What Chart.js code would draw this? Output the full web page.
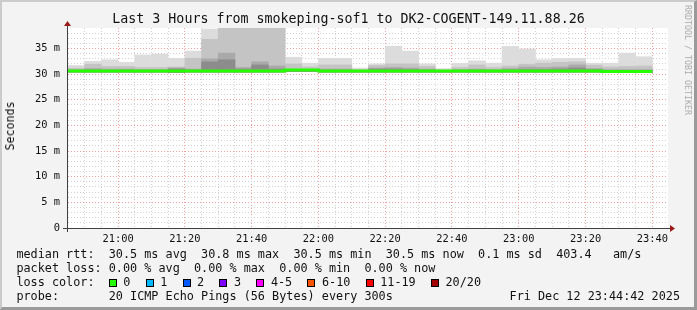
<!DOCTYPE html>
<html>
<head>
<meta charset="utf-8">
<title>Last 3 Hours from smokeping-sof1 to DK2-COGENT-149.11.88.26</title>
<script src="https://cdn.jsdelivr.net/npm/chart.js@4.4.1/dist/chart.umd.min.js"></script>
<style>
  body { margin: 0; background: #f3f3f3; font-family: "DejaVu Sans Mono", monospace; color: #111; }
  #frame { position: absolute; left: 0; top: 0; width: 697px; height: 310px; box-sizing: border-box;
    border-top: 2px solid #cbcbcb; border-left: 2px solid #cbcbcb;
    border-right: 3px solid #9a9a9a; border-bottom: 3px solid #9a9a9a; }
  #graph { position: absolute; left: 0; top: 0; }
  .txt { position: absolute; white-space: pre; }
  #title { left: 0; width: 697px; text-align: center; top: 10.7px; font-size: 13.3px; line-height: 16px; }
  #ylabel { left: 10px; top: 126px; font-size: 11.6px; line-height: 14px; transform: translate(-50%, -50%) rotate(-90deg); }
  #credit { left: 688px; top: 60px; font-size: 8.3px; line-height: 10px; color: #ababab; transform: translate(-50%, -50%) rotate(90deg); }
  .row { left: 16.4px; font-size: 11.8px; line-height: 14px; }
  #stamp { right: 17px; top: 289.4px; font-size: 11.8px; line-height: 14px; }
  .box { display: inline-block; width: 8px; height: 8px; box-sizing: border-box; border: 1px solid #000; margin-right: 6.6px; vertical-align: -0.5px; }
  .item { margin-right: 15.2px; }
</style>
</head>
<body>
<div id="frame"></div>
<canvas id="graph" width="697" height="310"></canvas>
<div class="txt" id="title">Last 3 Hours from smokeping-sof1 to DK2-COGENT-149.11.88.26</div>
<div class="txt" id="ylabel">Seconds</div>
<div class="txt" id="credit">RRDTOOL / TOBI OETIKER</div>
<div class="txt row" style="top:247.4px">median rtt:  30.5 ms avg  30.8 ms max  30.5 ms min  30.5 ms now  0.1 ms sd  403.4   am/s</div>
<div class="txt row" style="top:261.4px">packet loss: 0.00 % avg  0.00 % max  0.00 % min  0.00 % now</div>
<div class="txt row" id="lossrow" style="top:275.4px">loss color:  </div>
<div class="txt row" style="top:289.4px">probe:       20 ICMP Echo Pings (56 Bytes) every 300s</div>
<div class="txt" id="stamp">Fri Dec 12 23:44:42 2025</div>
<script>
// 5 minute slots, start time of each
var slotStarts = [
  "20:45", "20:50", "20:55", "21:00", "21:05", "21:10", "21:15", "21:20", "21:25", "21:30",
  "21:35", "21:40", "21:45", "21:50", "21:55", "22:00", "22:05", "22:10", "22:15", "22:20",
  "22:25", "22:30", "22:35", "22:40", "22:45", "22:50", "22:55", "23:00", "23:05", "23:10",
  "23:15", "23:20", "23:25", "23:30", "23:35",
];

// rtt in ms per slot (smoke bands: bottom, then tops of each shade)
var rttMin = [
  30.4, 30.4, 30.4, 30.4, 30.4, 30.4, 30.3, 30.4, 30.4, 30.4,
  30.4, 30.4, 30.4, 30.5, 30.5, 30.4, 30.4, 30.4, 30.4, 30.4,
  30.4, 30.4, 30.4, 30.4, 30.4, 30.4, 30.4, 30.4, 30.4, 30.4,
  30.4, 30.4, 30.3, 30.3, 30.3,
];
var rttMax = [
  31.7, 32.5, 32.8, 32.3, 33.75, 33.95, 33.1, 34.5, 38.8, 41.0,
  41.0, 41.0, 41.0, 33.3, 32.15, 33.1, 33.1, 31.2, 32.0, 35.45,
  34.5, 32.0, 31.1, 32.1, 32.6, 32.15, 35.4, 34.9, 32.8, 33.05,
  33.1, 32.15, 32.15, 34.1, 33.4,
];
var rttHigh = [
  31.2, 31.95, 31.5, 31.5, 31.3, 31.3, 31.4, 33.1, 36.8, 41.0,
  41.0, 41.0, 41.0, 32.0, 31.4, 31.8, 31.8, 30.9, 31.7, 32.0,
  32.0, 31.5, 30.8, 31.3, 31.8, 31.3, 31.6, 31.95, 32.15, 32.3,
  32.4, 31.75, 31.4, 31.5, 31.6,
];
var rttMid = [
  30.9, 31.1, 31.0, 31.0, 30.9, 30.9, 31.2, 31.0, 33.0, 34.1,
  31.3, 32.4, 31.6, 31.0, 30.9, 31.0, 31.0, 30.7, 31.2, 31.3,
  31.2, 31.0, 30.7, 30.9, 31.0, 30.9, 31.1, 31.4, 31.3, 31.4,
  31.8, 31.1, 30.9, 30.9, 30.9,
];
var rttLow = [
  30.7, 30.8, 30.7, 30.8, 30.7, 30.7, 31.0, 30.8, 32.4, 32.8,
  31.0, 31.8, 31.0, 30.9, 30.8, 30.8, 30.8, 30.6, 31.0, 31.0,
  30.9, 30.8, 30.6, 30.7, 30.8, 30.7, 30.8, 30.9, 30.9, 31.0,
  31.2, 30.9, 30.7, 30.7, 30.7,
];
var rttMedian = [
  30.6, 30.6, 30.6, 30.6, 30.6, 30.6, 30.6, 30.6, 30.6, 30.6,
  30.6, 30.6, 30.6, 30.8, 30.8, 30.6, 30.6, 30.6, 30.6, 30.6,
  30.6, 30.6, 30.6, 30.6, 30.6, 30.6, 30.6, 30.6, 30.6, 30.6,
  30.6, 30.6, 30.5, 30.5, 30.5,
];

var windowStart = "20:44:42";
var windowEnd = "23:44:42";
var timeTickLabels = ["21:00", "21:20", "21:40", "22:00", "22:20", "22:40", "23:00", "23:20", "23:40"];
var yTickLabels = ["0", "5 m", "10 m", "15 m", "20 m", "25 m", "30 m", "35 m"];
var lossLabels = ["0", "1", "2", "3", "4-5", "6-10", "11-19", "20/20"];

var lossColors = ["#26ff00", "#00b8ff", "#0059ff", "#7e00ff", "#ff00ff", "#ff5500", "#ff0000", "#a10000"];
var stepMin = 5;
var monoFont = "'DejaVu Sans Mono', monospace";

function toMin(t) {
  var p = t.split(":").map(Number);
  return p[0] * 60 + p[1] + (p[2] || 0) / 60;
}

function fmtMin(v) {
  var h = Math.floor(v / 60);
  var m = Math.round(v - h * 60);
  return h + ":" + (m < 10 ? "0" + m : m);
}

function smokeBand(tops) {
  return slotStarts.map(function (s, i) {
    return { x: toMin(s) + stepMin / 2, y: [rttMin[i], tops[i]] };
  });
}

function medianLine() {
  var pts = slotStarts.map(function (s, i) {
    return { x: toMin(s), y: rttMedian[i] };
  });
  var last = slotStarts.length - 1;
  pts.push({ x: toMin(slotStarts[last]) + stepMin, y: rttMedian[last] });
  return pts;
}

// legend boxes for loss colours
var lossRow = document.getElementById("lossrow");
lossLabels.forEach(function (label, i) {
  var box = document.createElement("span");
  box.className = "box";
  box.style.background = lossColors[i];
  var txt = document.createElement("span");
  txt.className = "item";
  txt.textContent = label;
  lossRow.appendChild(box);
  lossRow.appendChild(txt);
});

var plotFrame = {
  id: "plotFrame",
  beforeDraw: function (chart) {
    var a = chart.chartArea;
    var ctx = chart.ctx;
    ctx.save();
    ctx.fillStyle = "#ffffff";
    ctx.fillRect(a.left, a.top, a.right - a.left, a.bottom - a.top);
    ctx.restore();
  },
  afterDraw: function (chart) {
    var a = chart.chartArea;
    var ctx = chart.ctx;
    var xl = Math.round(a.left) + 0.5;
    var yb = Math.round(a.bottom) + 0.5;
    ctx.save();
    ctx.strokeStyle = "#404040";
    ctx.lineWidth = 1;
    ctx.beginPath();
    ctx.moveTo(xl, a.top - 3);
    ctx.lineTo(xl, a.bottom + 4);
    ctx.moveTo(a.left - 4, yb);
    ctx.lineTo(a.right + 3, yb);
    ctx.stroke();
    ctx.fillStyle = "#9c1a1a";
    ctx.beginPath();
    ctx.moveTo(xl, a.top - 7);
    ctx.lineTo(xl - 3.5, a.top - 2);
    ctx.lineTo(xl + 3.5, a.top - 2);
    ctx.closePath();
    ctx.fill();
    ctx.beginPath();
    ctx.moveTo(a.right + 7, yb);
    ctx.lineTo(a.right + 2, yb - 3.5);
    ctx.lineTo(a.right + 2, yb + 3.5);
    ctx.closePath();
    ctx.fill();
    ctx.restore();
  },
};

window.onload = function () {
  var ctx = document.getElementById("graph").getContext("2d");
  var smokeShades = ["#8c8c8c", "#a9a9a9", "#c4c4c4", "#dcdcdc"];
  var bands = [rttLow, rttMid, rttHigh, rttMax];
  var datasets = [
    {
      type: "line",
      label: "median rtt",
      data: medianLine(),
      borderColor: lossColors[0],
      borderWidth: 3,
      pointRadius: 0,
      stepped: true,
      fill: false,
      order: 0,
    },
  ];
  bands.forEach(function (band, i) {
    datasets.push({
      type: "bar",
      label: "smoke " + i,
      data: smokeBand(band),
      backgroundColor: smokeShades[i],
      borderWidth: 0,
      grouped: false,
      barPercentage: 1,
      categoryPercentage: 1,
      order: i + 1,
    });
  });

  var gridMinutes = [];
  for (var m = Math.ceil(toMin(windowStart) / stepMin) * stepMin + stepMin; m < toMin(windowEnd); m += stepMin) {
    gridMinutes.push(m);
  }

  new Chart(ctx, {
    type: "bar",
    data: { datasets: datasets },
    plugins: [plotFrame],
    options: {
      responsive: false,
      devicePixelRatio: 1,
      animation: false,
      layout: { padding: { left: 0, right: 29, top: 28, bottom: 0 } },
      plugins: {
        legend: { display: false },
        tooltip: { enabled: false },
      },
      scales: {
        x: {
          type: "linear",
          offset: false,
          min: toMin(windowStart),
          max: toMin(windowEnd),
          z: 1,
          afterFit: function (scale) {
            scale.height = 82;
          },
          afterBuildTicks: function (scale) {
            scale.ticks = gridMinutes.map(function (v) {
              return { value: v };
            });
          },
          border: { color: "#404040", width: 1, dash: [1, 2] },
          grid: {
            offset: false,
            drawTicks: false,
            lineWidth: 1,
            color: function (c) {
              if (!c.tick) return "rgba(0,0,0,0)";
              return timeTickLabels.indexOf(fmtMin(c.tick.value)) >= 0 ? "#f2a0a0" : "#d2d2d2";
            },
          },
          ticks: {
            autoSkip: false,
            maxRotation: 0,
            padding: 5,
            color: "#111",
            font: { family: monoFont, size: 10.4 },
            callback: function (v) {
              var s = fmtMin(v);
              return timeTickLabels.indexOf(s) >= 0 ? s : "";
            },
          },
        },
        y: {
          min: 0,
          max: 39,
          z: 1,
          afterFit: function (scale) {
            scale.width = 67;
          },
          border: { color: "#404040", width: 1, dash: [1, 2] },
          grid: {
            drawTicks: false,
            lineWidth: 1,
            color: function (c) {
              if (!c.tick || c.tick.value <= 0 || c.tick.value >= 39) return "rgba(0,0,0,0)";
              return c.tick.value % 5 === 0 ? "#f2a0a0" : "#d2d2d2";
            },
          },
          ticks: {
            stepSize: 1,
            autoSkip: false,
            padding: 7,
            color: "#111",
            font: { family: monoFont, size: 10.4 },
            callback: function (v) {
              return v % 5 === 0 ? yTickLabels[v / 5] : "";
            },
          },
        },
      },
    },
  });
};
</script>
</body>
</html>
